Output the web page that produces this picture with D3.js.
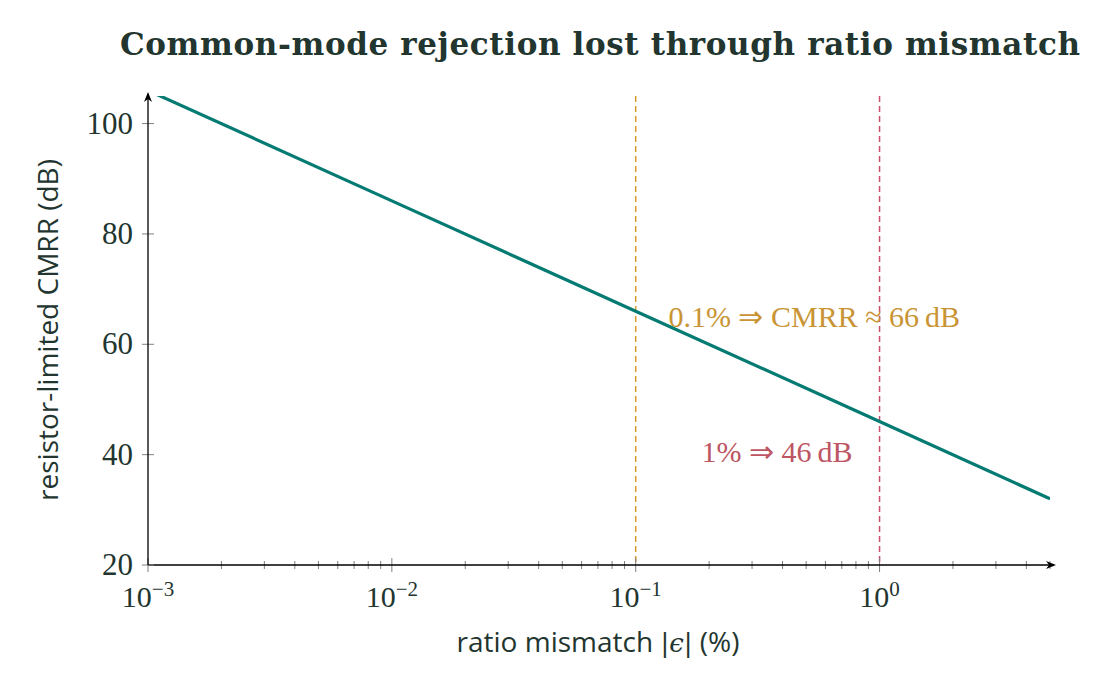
<!DOCTYPE html>
<html>
<head>
<meta charset="utf-8">
<script src="https://cdn.jsdelivr.net/npm/d3@7"></script>
<style>
  body { margin: 0; background: #fff; }
  svg { display: block; }
</style>
</head>
<body>
<script>
'use strict'
// curve: resistor-limited CMRR vs ratio mismatch
var mismatch = [0.001, 0.01, 0.1, 1, 5]
var cmrr = [106.0, 86.0, 66.0, 46.0, 32.0]
var yTicks = [20, 40, 60, 80, 100]
var xTicks = [0.001, 0.01, 0.1, 1]
var xTickExp = ['−3', '−2', '−1', '0']
var markers = [0.1, 1]
var markerLabels = ['0.1% ⇒ CMRR ≈ 66\u2009dB', '1% ⇒ 46\u2009dB']
var markerLabelAt = [[0.54, 64.3], [0.38, 39.9]]

var W = 1115, H = 694
var margin = {top: 96, right: 65, bottom: 129, left: 148}
var width = W - margin.left - margin.right
var height = H - margin.top - margin.bottom

var textCol = '#22352f'
var lineCol = '#037a72'
var markerCols = ['#d99a2b', '#c8506a']
var markerText = ['#c99434', '#bd5563']
var serif = 'Liberation Serif'

var x = d3.scaleLog().domain([0.001, 5]).range([0, width])
var y = d3.scaleLinear().domain([20, 105]).range([height, 0])

var svg = d3.select('body').append('svg')
  .attr('width', W)
  .attr('height', H)

var defs = svg.append('defs')
defs.append('clipPath').attr('id', 'clip')
  .append('rect').attr('width', width).attr('height', height)
defs.append('marker').attr('id', 'arrow')
  .attr('viewBox', '0 0 10 10').attr('refX', 8).attr('refY', 5)
  .attr('markerWidth', 10).attr('markerHeight', 10)
  .attr('markerUnits', 'userSpaceOnUse')
  .attr('orient', 'auto')
  .append('path').attr('d', 'M0,1 L10,5 L0,9 L3,5 Z').attr('fill', '#000')

var g = svg.append('g')
  .attr('transform', `translate(${margin.left}, ${margin.top})`)

// title
svg.append('text')
  .attr('x', 600).attr('y', 55)
  .attr('text-anchor', 'middle')
  .attr('font-family', 'DejaVu Serif')
  .attr('font-weight', 'bold')
  .attr('font-size', '31px')
  .attr('textLength', 960)
  .attr('lengthAdjust', 'spacing')
  .attr('fill', textCol)
  .text('Common-mode rejection lost through ratio mismatch')

// marker lines
g.selectAll('.marker')
  .data(markers)
  .enter().append('line')
  .attr('class', 'marker')
  .attr('x1', d => x(d)).attr('x2', d => x(d))
  .attr('y1', 0).attr('y2', height)
  .attr('stroke', (d, i) => markerCols[i])
  .attr('stroke-width', 1.5)
  .attr('stroke-dasharray', '6,4')

// curve
var line = d3.line()
  .x((d, i) => x(mismatch[i]))
  .y(d => y(d))
g.append('path')
  .datum(cmrr)
  .attr('clip-path', 'url(#clip)')
  .attr('d', line)
  .attr('fill', 'none')
  .attr('stroke', lineCol)
  .attr('stroke-width', 3.2)

// annotations
g.selectAll('.ann')
  .data(markerLabels)
  .enter().append('text')
  .attr('class', 'ann')
  .attr('x', (d, i) => x(markerLabelAt[i][0]))
  .attr('y', (d, i) => y(markerLabelAt[i][1]))
  .attr('text-anchor', 'middle')
  .attr('dominant-baseline', 'middle')
  .attr('font-family', serif)
  .attr('font-size', '30px')
  .attr('fill', (d, i) => markerText[i])
  .text(d => d)

// x axis
var minor = []
for (var e = -3; e <= 0; e++) {
  for (var k = 2; k <= 9; k++) {
    var v = k * Math.pow(10, e)
    if (v <= 5) minor.push(v)
  }
}
var xAxis = g.append('g').attr('transform', `translate(0, ${height})`)
xAxis.selectAll('.minor')
  .data(minor)
  .enter().append('line')
  .attr('x1', d => x(d)).attr('x2', d => x(d))
  .attr('y1', -4).attr('y2', 4)
  .attr('stroke', '#808080').attr('stroke-width', 1)
xAxis.selectAll('.major')
  .data(xTicks)
  .enter().append('line')
  .attr('x1', d => x(d)).attr('x2', d => x(d))
  .attr('y1', -7).attr('y2', 7)
  .attr('stroke', '#808080').attr('stroke-width', 1)
xAxis.append('line')
  .attr('x1', 0).attr('x2', width + 4)
  .attr('stroke', '#000').attr('stroke-width', 1.3)
  .attr('marker-end', 'url(#arrow)')
var xl = xAxis.selectAll('.xlab')
  .data(xTicks)
  .enter().append('text')
  .attr('x', d => x(d))
  .attr('y', 42)
  .attr('text-anchor', 'middle')
  .attr('font-family', serif)
  .attr('font-size', '30px')
  .attr('fill', textCol)
xl.append('tspan').text('10')
xl.append('tspan')
  .attr('dy', -11)
  .attr('font-size', '21px')
  .text((d, i) => xTickExp[i])

// y axis
var yAxis = g.append('g')
yAxis.selectAll('.ytick')
  .data(yTicks)
  .enter().append('line')
  .attr('x1', -6).attr('x2', 6)
  .attr('y1', d => y(d)).attr('y2', d => y(d))
  .attr('stroke', '#808080').attr('stroke-width', 1)
yAxis.append('line')
  .attr('y1', height).attr('y2', -2)
  .attr('stroke', '#000').attr('stroke-width', 1.3)
  .attr('marker-end', 'url(#arrow)')
yAxis.selectAll('.ylab')
  .data(yTicks)
  .enter().append('text')
  .attr('x', -15)
  .attr('y', d => y(d) + 10)
  .attr('text-anchor', 'end')
  .attr('font-family', serif)
  .attr('font-size', '31px')
  .attr('fill', textCol)
  .text(d => d)

// axis titles
var xt = svg.append('text')
  .attr('x', 598).attr('y', 652)
  .attr('text-anchor', 'middle')
  .attr('font-family', 'Open Sans')
  .attr('font-size', '28px')
  .attr('fill', textCol)
xt.append('tspan').text('ratio mismatch ')
xt.append('tspan').attr('font-family', 'DejaVu Serif').attr('font-size', '26px').text('|')
xt.append('tspan').attr('font-family', 'DejaVu Serif').attr('font-size', '26px').attr('font-style', 'italic').text('ϵ')
xt.append('tspan').attr('font-family', 'DejaVu Serif').attr('font-size', '26px').text('|')
xt.append('tspan').text(' (%)')

svg.append('text')
  .attr('transform', 'translate(58, 330) rotate(-90)')
  .attr('text-anchor', 'middle')
  .attr('font-family', 'Open Sans')
  .attr('font-size', '28px')
  .attr('fill', textCol)
  .text('resistor-limited CMRR (dB)')
</script>
</body>
</html>
